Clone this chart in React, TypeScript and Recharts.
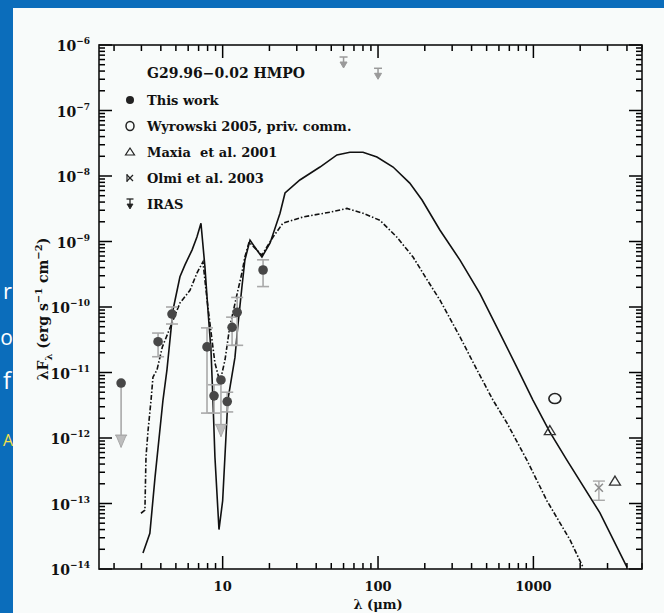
import React from "react";
import { ComposedChart, ErrorBar, Line, Scatter, XAxis, YAxis } from "recharts";

// model SEDs: wavelength in µm, λFλ in erg s^-1 cm^-2
const solidLambda = [
  3.07, 3.4, 3.67, 4.13, 4.38, 4.79, 5.31, 5.72, 6.35, 6.83, 7.25, 7.69, 8.04, 8.41, 8.66, 8.92,
  9.47, 10.0, 10.8, 12.0, 12.5, 13.3, 13.9, 15.0, 16.6, 17.9, 20.2, 23.4, 25.2, 31.4, 42.3, 54.4,
  65.9, 80, 98.4, 125, 160, 192, 250, 337, 453, 608, 783, 993, 1277, 1643, 2680, 4000,
];
const solidFlux = [
  1.75e-14, 3.5e-14, 2.5e-13, 3.8e-12, 1.1e-11, 9e-11, 2.9e-10, 4.4e-10, 7.4e-10, 1.17e-9, 1.9e-9,
  4.1e-10, 9e-11, 2.2e-11, 3.8e-12, 5.1e-13, 4e-14, 1.1e-13, 3.8e-12, 1.7e-11, 4.9e-11, 2e-10,
  5.2e-10, 1.05e-9, 7.4e-10, 5.8e-10, 9.5e-10, 2.7e-9, 5.5e-9, 8.7e-9, 1.37e-8, 2.1e-8, 2.3e-8,
  2.3e-8, 1.95e-8, 1.37e-8, 7.8e-9, 4.3e-9, 1.5e-9, 5.2e-10, 1.6e-10, 4e-11, 1.2e-11, 3.8e-12,
  1.23e-12, 4.6e-13, 7.2e-14, 1.07e-14,
];
const dashLambda = [
  2.98, 3.16, 3.21, 3.31, 3.46, 3.56, 3.78, 4.09, 4.72, 5.31, 6.16, 6.83, 7.47, 7.93, 8.53, 8.92,
  9.61, 10.35, 11.1, 12.4, 13.3, 13.9, 14.8, 16.6, 17.9, 21.1, 24.4, 32.9, 49.0, 63.1, 80, 103,
  132, 168, 207, 250, 337, 433, 549, 675, 908, 1222, 1718, 2083,
];
const dashFlux = [
  7.1e-14, 7.9e-14, 5.1e-13, 1.3e-12, 3.8e-12, 8.5e-12, 1.1e-11, 2.45e-11, 5.7e-11, 1.15e-10,
  1.8e-10, 3.3e-10, 4.9e-10, 1.3e-10, 3.2e-11, 1.4e-11, 7.1e-12, 1.55e-11, 4.9e-11, 1.6e-10,
  3.3e-10, 5.8e-10, 9.8e-10, 7.4e-10, 6.2e-10, 1.17e-9, 1.9e-9, 2.37e-9, 2.8e-9, 3.2e-9, 2.7e-9,
  2.1e-9, 1.17e-9, 5.8e-10, 2.6e-10, 1.28e-10, 3.5e-11, 1.1e-11, 3.8e-12, 1.7e-12, 4.6e-13,
  1.1e-13, 2.8e-14, 1.07e-14,
];

// this work: detections with lower/upper error limits
const workLambda = [3.84, 4.72, 7.93, 8.8, 10.7, 11.5, 12.4, 18.2];
const workFlux = [2.95e-11, 7.8e-11, 2.46e-11, 4.4e-12, 3.6e-12, 4.9e-11, 8.3e-11, 3.67e-10];
const workLow = [1.74e-11, 5.5e-11, 2.4e-12, 2.4e-12, 2.5e-12, 2.6e-11, 2.6e-11, 2.05e-10];
const workHigh = [4.0e-11, 1.0e-10, 4.8e-11, 6.5e-12, 5.0e-12, 7.0e-11, 1.4e-10, 5.25e-10];

// this work: upper limits, arrow runs down to limitEnd
const limitLambda = [2.22, 9.75];
const limitFlux = [6.9e-12, 7.7e-12];
const limitEnd = [7.2e-13, 1.05e-12];

const irasLambda = [60, 100];
const irasFlux = [5.5e-7, 3.7e-7];

const wyrowskiLambda = [1375];
const wyrowskiFlux = [4.0e-12];

const maxiaLambda = [1276, 3350];
const maxiaFlux = [1.3e-12, 2.2e-13];

const olmiLambda = [2640];
const olmiFlux = [1.74e-13];
const olmiLow = [1.12e-13];
const olmiHigh = [2.2e-13];

const xDecades = [1, 10, 100, 1000];
const yDecades = [-14, -13, -12, -11, -10, -9, -8, -7, -6];
const mantissas = [1, 2, 3, 4, 5, 6, 7, 8, 9];
const xLabels: Record<number, string> = { 10: "10", 100: "100", 1000: "1000" };

const legendLabels = [
  "This work",
  "Wyrowski 2005, priv. comm.",
  "Maxia  et al. 2001",
  "Olmi et al. 2003",
  "IRAS",
];
const title = "G29.96\u22120.02 HMPO";

const X_DOMAIN: [number, number] = [1.6, 5000];
const Y_DOMAIN: [number, number] = [1e-14, 1e-6];

const W = 664;
const H = 613;
const Y_AXIS_W = 60;
const X_AXIS_H = 30;
const M = { top: 45, right: 22, bottom: 14, left: 39 };
const LEFT = M.left + Y_AXIS_W;
const RIGHT = W - M.right;
const TOP = M.top;
const BOTTOM = H - M.bottom - X_AXIS_H;

const FONT = "'DejaVu Serif', serif";
const INK = "#111";
const GREY = "#a9a9a9";

const xTicks = xDecades
  .flatMap((d) => mantissas.map((m) => m * d))
  .filter((v) => v >= X_DOMAIN[0] && v <= X_DOMAIN[1]);
const yTicks = yDecades
  .flatMap((e) => mantissas.map((m) => m * Math.pow(10, e)))
  .filter((v) => v >= Y_DOMAIN[0] * 0.999 && v <= Y_DOMAIN[1] * 1.001);

const isDecade = (v: number) => {
  const l = Math.log10(v);
  return Math.abs(l - Math.round(l)) < 1e-6;
};

// pixel position of a tick along the frame (same log mapping as the axes)
const logPos = (v: number, [d0, d1]: [number, number], p0: number, p1: number) =>
  p0 + ((Math.log10(v) - Math.log10(d0)) / (Math.log10(d1) - Math.log10(d0))) * (p1 - p0);

const zip = (xs: number[], ys: number[]) => xs.map((x, i) => ({ x, y: ys[i] }));

const solid = zip(solidLambda, solidFlux);
const dashed = zip(dashLambda, dashFlux);
const work = workLambda.map((x, i) => ({
  x,
  y: workFlux[i],
  err: [workFlux[i] - workLow[i], workHigh[i] - workFlux[i]],
}));
const limitDots = zip(limitLambda, limitFlux);
const limitArrows = limitLambda.map((x, i) => ({
  x,
  y: limitEnd[i],
  err: [0, limitFlux[i] - limitEnd[i]],
}));
const iras = zip(irasLambda, irasFlux);
const wyrowski = zip(wyrowskiLambda, wyrowskiFlux);
const maxia = zip(maxiaLambda, maxiaFlux);
const olmi = olmiLambda.map((x, i) => ({
  x,
  y: olmiFlux[i],
  err: [olmiFlux[i] - olmiLow[i], olmiHigh[i] - olmiFlux[i]],
}));

function renderXLabel(props: any) {
  const { payload } = props;
  const label = xLabels[payload.value];
  if (!label) return <g key={`xl-${payload.value}`} />;
  return (
    <text
      key={`xl-${payload.value}`}
      x={payload.coordinate}
      y={BOTTOM + 22}
      textAnchor="middle"
      fontFamily={FONT}
      fontWeight="bold"
      fontSize={13}
      fill={INK}
    >
      {label}
    </text>
  );
}

function renderYLabel(props: any) {
  const { payload } = props;
  const exp = Math.round(Math.log10(payload.value));
  return (
    <text
      key={`yl-${payload.value}`}
      x={90}
      y={payload.coordinate + 6}
      textAnchor="end"
      fontFamily={FONT}
      fontWeight="bold"
      fontSize={14}
      fill={INK}
    >
      10
      <tspan dy={-7} fontSize={9}>
        {"\u2212" + Math.abs(exp)}
      </tspan>
    </text>
  );
}

const FilledDot = (p: any) => <circle cx={p.cx} cy={p.cy} r={4.8} fill="#474747" />;

const OpenCircle = (p: any) => (
  <ellipse cx={p.cx} cy={p.cy} rx={6} ry={5} fill="none" stroke="#222" strokeWidth={1.6} />
);

const OpenTriangle = (p: any) => (
  <path
    d={`M${p.cx},${p.cy - 5} L${p.cx + 5.5},${p.cy + 4} L${p.cx - 5.5},${p.cy + 4} Z`}
    fill="none"
    stroke="#333"
    strokeWidth={1.3}
  />
);

const Cross = (p: any) => (
  <g stroke="#8c8c8c" strokeWidth={1.5}>
    <line x1={p.cx - 4} y1={p.cy - 4} x2={p.cx + 4} y2={p.cy + 4} />
    <line x1={p.cx - 4} y1={p.cy + 4} x2={p.cx + 4} y2={p.cy - 4} />
  </g>
);

// arrow head for an upper limit, tip on the data point
const ArrowHead = (p: any) => (
  <g>
    <line x1={p.cx - 6} x2={p.cx + 6} y1={p.cy - 12} y2={p.cy - 12} stroke={GREY} strokeWidth={1.5} />
    <path
      d={`M${p.cx - 5},${p.cy - 12} L${p.cx + 5},${p.cy - 12} L${p.cx},${p.cy} Z`}
      fill="#bdbdbd"
      stroke={GREY}
    />
  </g>
);

const IrasMark = (p: any) => (
  <g stroke="#9a9a9a" fill="#9a9a9a" strokeWidth={1.5}>
    <line x1={p.cx - 4} x2={p.cx + 4} y1={p.cy - 5} y2={p.cy - 5} />
    <line x1={p.cx} x2={p.cx} y1={p.cy - 5} y2={p.cy + 2} />
    <path d={`M${p.cx - 3.5},${p.cy} L${p.cx + 3.5},${p.cy} L${p.cx},${p.cy + 6} Z`} strokeWidth={1} />
  </g>
);

const legendMarkers = [
  <circle key="a" cx={0} cy={0} r={4} fill="#222" />,
  <ellipse key="b" cx={0} cy={0} rx={4} ry={4.5} fill="none" stroke="#222" strokeWidth={1.5} />,
  <path key="c" d="M0,-4 L4.5,3 L-4.5,3 Z" fill="none" stroke="#222" strokeWidth={1.2} />,
  <g key="d" stroke="#222" strokeWidth={1.2}>
    <line x1={-3} y1={-3} x2={3} y2={3} />
    <line x1={-3} y1={3} x2={3} y2={-3} />
    <line x1={-3} y1={-4} x2={-3} y2={4} />
  </g>,
  <g key="e" stroke="#222" fill="#222" strokeWidth={1.3}>
    <line x1={-3.5} x2={3.5} y1={-5} y2={-5} />
    <line x1={0} x2={0} y1={-5} y2={1} />
    <path d="M-3,0 L3,0 L0,5 Z" strokeWidth={0.8} />
  </g>,
];

// inward tick marks on all four sides of the frame
const xTickMarks = xTicks.map((v) => ({ pos: logPos(v, X_DOMAIN, LEFT, RIGHT), len: isDecade(v) ? 13 : 6 }));
const yTickMarks = yTicks.map((v) => ({ pos: logPos(v, Y_DOMAIN, BOTTOM, TOP), len: isDecade(v) ? 13 : 6 }));

export default function App() {
  return (
    <div
      style={{
        position: "absolute",
        left: 0,
        top: 0,
        width: W,
        height: H,
        background: "#0b6dbb",
        overflow: "hidden",
      }}
    >
      {/* ends of the slide text to the left of the figure */}
      <svg width={13} height={H} style={{ position: "absolute", left: 0, top: 0 }}>
        <g fontFamily="'Open Sans', sans-serif" textAnchor="end" fill="#fff">
          <text x={12} y={299} fontSize={22}>r</text>
          <text x={13} y={345} fontSize={21}>o</text>
          <text x={11} y={389} fontSize={24}>f</text>
          <text x={13} y={446} fontSize={16} fill="#f5e04a">A</text>
        </g>
      </svg>
      <div
        style={{
          position: "absolute",
          left: 13,
          top: 8,
          width: W - 13,
          height: H - 8,
          background: "#f8fbfa",
        }}
      />
      <div style={{ position: "absolute", left: 0, top: 0 }}>
        <ComposedChart width={W} height={H} margin={M}>
          <XAxis
            type="number"
            dataKey="x"
            scale="log"
            domain={X_DOMAIN}
            allowDataOverflow
            ticks={xDecades.filter((d) => xLabels[d])}
            interval={0}
            tick={renderXLabel}
            tickLine={false}
            axisLine={false}
            height={X_AXIS_H}
          />
          <YAxis
            type="number"
            dataKey="y"
            scale="log"
            domain={Y_DOMAIN}
            allowDataOverflow
            ticks={yDecades.map((e) => Math.pow(10, e))}
            interval={0}
            tick={renderYLabel}
            tickLine={false}
            axisLine={false}
            width={Y_AXIS_W}
          />
          <Line
            data={solid}
            dataKey="y"
            type="linear"
            stroke={INK}
            strokeWidth={1.6}
            dot={false}
            isAnimationActive={false}
          />
          <Line
            data={dashed}
            dataKey="y"
            type="linear"
            stroke={INK}
            strokeWidth={1.6}
            strokeDasharray="5 2 1.5 2"
            dot={false}
            isAnimationActive={false}
          />
          <Scatter data={limitArrows} dataKey="y" shape={ArrowHead} isAnimationActive={false}>
            <ErrorBar
              dataKey="err"
              direction="y"
              width={0}
              stroke={GREY}
              strokeWidth={1.6}
              isAnimationActive={false}
            />
          </Scatter>
          <Scatter data={limitDots} dataKey="y" shape={FilledDot} isAnimationActive={false} />
          <Scatter data={work} dataKey="y" shape={FilledDot} isAnimationActive={false}>
            <ErrorBar
              dataKey="err"
              direction="y"
              width={6}
              stroke={GREY}
              strokeWidth={1.6}
              isAnimationActive={false}
            />
          </Scatter>
          <Scatter data={iras} dataKey="y" shape={IrasMark} isAnimationActive={false} />
          <Scatter data={wyrowski} dataKey="y" shape={OpenCircle} isAnimationActive={false} />
          <Scatter data={maxia} dataKey="y" shape={OpenTriangle} isAnimationActive={false} />
          <Scatter data={olmi} dataKey="y" shape={Cross} isAnimationActive={false}>
            <ErrorBar
              dataKey="err"
              direction="y"
              width={6}
              stroke={GREY}
              strokeWidth={1.4}
              isAnimationActive={false}
            />
          </Scatter>
        </ComposedChart>
      </div>
      <svg width={W} height={H} style={{ position: "absolute", left: 0, top: 0, pointerEvents: "none" }}>
        <g stroke="#000" strokeWidth={1.5}>
          {xTickMarks.map((t, i) => (
            <g key={`xt${i}`}>
              <line x1={t.pos} x2={t.pos} y1={BOTTOM} y2={BOTTOM - t.len} />
              <line x1={t.pos} x2={t.pos} y1={TOP} y2={TOP + t.len} />
            </g>
          ))}
          {yTickMarks.map((t, i) => (
            <g key={`yt${i}`}>
              <line x1={LEFT} x2={LEFT + t.len} y1={t.pos} y2={t.pos} />
              <line x1={RIGHT} x2={RIGHT - t.len} y1={t.pos} y2={t.pos} />
            </g>
          ))}
        </g>
        <rect
          x={LEFT}
          y={TOP}
          width={RIGHT - LEFT}
          height={BOTTOM - TOP}
          fill="none"
          stroke={INK}
          strokeWidth={1.6}
        />
        <g fontFamily={FONT} fontWeight="bold" fill={INK}>
          <text x={147} y={78} fontSize={14}>
            {title}
          </text>
          {legendLabels.map((label, i) => {
            const y = 100 + i * 26;
            return (
              <g key={label}>
                <g transform={`translate(130, ${y})`}>{legendMarkers[i]}</g>
                <text x={147} y={y + 5} fontSize={13} style={{ whiteSpace: "pre" }}>
                  {label}
                </text>
              </g>
            );
          })}
          <text x={378} y={609} fontSize={13} textAnchor="middle">
            {"\u03bb (\u03bcm)"}
          </text>
          <text transform="translate(48, 309) rotate(-90)" x={0} y={0} fontSize={14} textAnchor="middle">
            {"\u03bbF"}
            <tspan dy={4} fontSize={10}>
              {"\u03bb"}
            </tspan>
            <tspan dy={-4}>{" (erg s"}</tspan>
            <tspan dy={-6} fontSize={10}>
              {"\u22121"}
            </tspan>
            <tspan dy={6}>{" cm"}</tspan>
            <tspan dy={-6} fontSize={10}>
              {"\u22122"}
            </tspan>
            <tspan dy={6}>{")"}</tspan>
          </text>
        </g>
      </svg>
    </div>
  );
}
